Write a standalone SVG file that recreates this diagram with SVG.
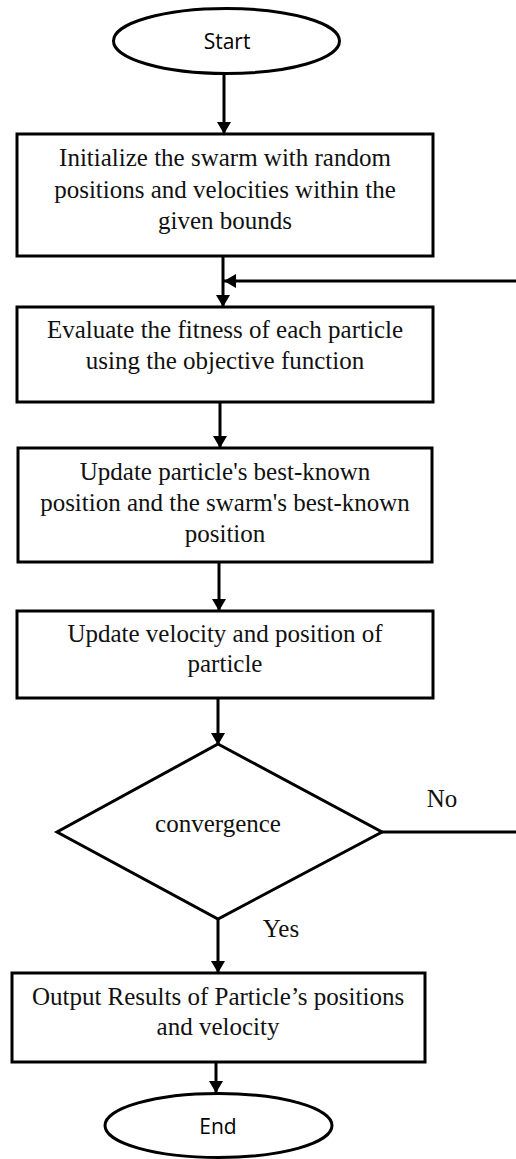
<svg xmlns="http://www.w3.org/2000/svg" width="516" height="1159" viewBox="0 0 516 1159">
<style>
.shape{fill:#fff;stroke:#000;stroke-width:3}
.conn{fill:none;stroke:#000;stroke-width:3}
.t{font-family:"Liberation Serif","Times New Roman",serif;font-size:25px;fill:#111;text-anchor:middle}
.s{font-family:"Open Sans","Noto Sans",sans-serif;font-size:21px;fill:#000;text-anchor:middle}
</style>
<defs>
<marker id="arr" markerUnits="userSpaceOnUse" markerWidth="14" markerHeight="14" viewBox="0 0 12 14" refX="12" refY="7" orient="auto">
<path d="M0,0 L12,7 L0,14 Z" fill="#000"/>
</marker>
</defs>
<rect width="516" height="1159" fill="#fff"/>
<g id="connectors">
<line class="conn" x1="224" y1="74" x2="224" y2="134" marker-end="url(#arr)"/>
<line class="conn" x1="223" y1="256" x2="223" y2="307" marker-end="url(#arr)"/>
<line class="conn" x1="516" y1="281" x2="224" y2="281" marker-end="url(#arr)"/>
<line class="conn" x1="220" y1="402" x2="220" y2="448" marker-end="url(#arr)"/>
<line class="conn" x1="219" y1="562" x2="219" y2="611" marker-end="url(#arr)"/>
<line class="conn" x1="218" y1="698" x2="218" y2="745" marker-end="url(#arr)"/>
<line class="conn" x1="382" y1="832" x2="516" y2="832"/>
<line class="conn" x1="218" y1="919" x2="218" y2="973" marker-end="url(#arr)"/>
<line class="conn" x1="216" y1="1062" x2="216" y2="1093" marker-end="url(#arr)"/>
<text class="t" x="442" y="807">No</text>
<text class="t" x="281" y="937">Yes</text>
</g>
<g id="start">
<ellipse class="shape" cx="226.5" cy="41" rx="113" ry="32.5"/>
<text class="s" x="227" y="49">Start</text>
</g>
<g id="init">
<rect class="shape" x="17" y="134" width="416" height="122"/>
<text class="t" x="225" y="166">Initialize the swarm with random</text>
<text class="t" x="225" y="198">positions and velocities within the</text>
<text class="t" x="225" y="229">given bounds</text>
</g>
<g id="evaluate">
<rect class="shape" x="17" y="307" width="416" height="95"/>
<text class="t" x="225" y="338">Evaluate the fitness of each particle</text>
<text class="t" x="225" y="369">using the objective function</text>
</g>
<g id="update-best">
<rect class="shape" x="18" y="448" width="414" height="114"/>
<text class="t" x="225" y="480">Update particle's best-known</text>
<text class="t" x="225" y="511">position and the swarm's best-known</text>
<text class="t" x="225" y="542">position</text>
</g>
<g id="update-velocity">
<rect class="shape" x="17" y="611" width="416" height="87"/>
<text class="t" x="225" y="642">Update velocity and position of</text>
<text class="t" x="225" y="672">particle</text>
</g>
<g id="convergence">
<polygon class="shape" points="218,744 382,832 218,919 57,832"/>
<text class="t" x="218" y="832">convergence</text>
</g>
<g id="output">
<rect class="shape" x="12" y="973" width="413" height="89"/>
<text class="t" x="218" y="1005">Output Results of Particle’s positions</text>
<text class="t" x="218" y="1035">and velocity</text>
</g>
<g id="end">
<ellipse class="shape" cx="218.5" cy="1125.5" rx="113.5" ry="32"/>
<text class="s" x="218" y="1134">End</text>
</g>
</svg>
